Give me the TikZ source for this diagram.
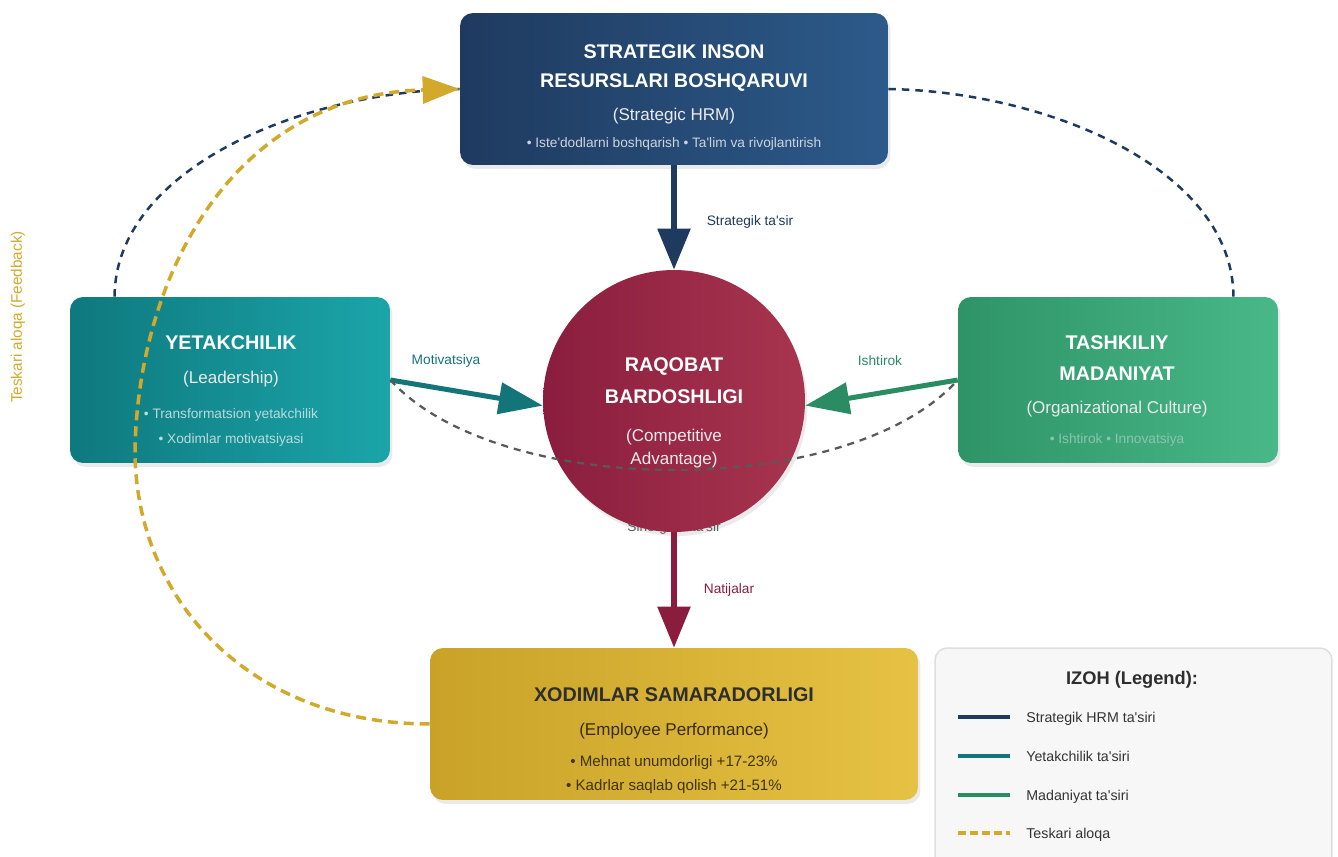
\documentclass[tikz,border=0pt]{standalone}
\usepackage{fontspec}
\setmainfont{Liberation Sans}[Ligatures=TeXOff]
\usepackage{tikz}
\usetikzlibrary{arrows.meta,calc,shadows}
\definecolor{hrmblue}{HTML}{1F3A5F}
\definecolor{hrmlight}{HTML}{2C5A8A}
\definecolor{leadteal}{HTML}{0E797E}
\definecolor{leadlight}{HTML}{1BA5A9}
\definecolor{leadarrow}{HTML}{147579}
\definecolor{cultgreen}{HTML}{2E9468}
\definecolor{cultlight}{HTML}{49B888}
\definecolor{cultarrow}{HTML}{2A8C62}
\definecolor{advred}{HTML}{8A1D3E}
\definecolor{advlight}{HTML}{A8354F}
\definecolor{perfgold}{HTML}{C9A227}
\definecolor{perflight}{HTML}{E6C244}
\definecolor{fbgold}{HTML}{D2A92B}

\begin{document}
\begin{tikzpicture}[x=0.02cm,y=-0.02cm,
  box/.style={rounded corners=0.26cm, inner sep=0pt,
    drop shadow={opacity=0.16, shadow xshift=0.05cm, shadow yshift=-0.08cm}},
  title/.style={font=\bfseries\fontsize{11.25}{14}\selectfont, text=white},
  sub/.style={font=\fontsize{9.7}{12}\selectfont, text=white!92!black},
  note/.style={font=\fontsize{7.8}{9}\selectfont},
  lbl/.style={font=\fontsize{7.8}{9}\selectfont},
  legtext/.style={font=\fontsize{8.1}{10}\selectfont, text=black!80, anchor=base west, inner sep=0pt},
  bigarrow/.style={line width=0.11cm, -{Triangle[length=0.82cm, width=0.64cm]}},
  sidearrow/.style={line width=0.1cm, -{Triangle[length=0.88cm, width=0.62cm]}}]

\clip (0,0) rectangle (1338,857);
\fill[white] (0,0) rectangle (1338,857);

% label that sits under the circle
\node[lbl, text=black!65] (sinlbl) at (674,528) {Sinergetik ta'sir};

% main blocks
\node[box, minimum width=8.56cm, minimum height=3.04cm, left color=hrmblue, right color=hrmlight] (hrm) at (674,89) {};
\node[box, minimum width=6.4cm, minimum height=3.32cm, left color=leadteal, right color=leadlight] (lead) at (230,380) {};
\node[box, minimum width=6.4cm, minimum height=3.32cm, left color=cultgreen, right color=cultlight] (cult) at (1118,380) {};
\node[circle, inner sep=0pt, minimum size=5.24cm, left color=advred, right color=advlight,
  drop shadow={opacity=0.16, shadow xshift=0.05cm, shadow yshift=-0.08cm}] (adv) at (674,401) {};
\node[box, minimum width=9.76cm, minimum height=3.04cm, left color=perfgold, right color=perflight] (perf) at (674,724) {};

% texts
\node[title] (hrm-t1) at (674,52) {STRATEGIK INSON};
\node[title] (hrm-t2) at (674,83) {RESURSLARI BOSHQARUVI};
\node[sub] (hrm-sub) at (674,116) {(Strategic HRM)};
\node[note, text=white!78!hrmblue] (hrm-note) at (674,144) {• Iste'dodlarni boshqarish • Ta'lim va rivojlantirish};

\node[title] (lead-t) at (231,343) {YETAKCHILIK};
\node[sub] (lead-sub) at (231,379) {(Leadership)};
\node[note, text=white!72!leadteal] (lead-n1) at (231,415) {• Transformatsion yetakchilik};
\node[note, text=white!72!leadteal] (lead-n2) at (231,440) {• Xodimlar motivatsiyasi};

\node[title] (cult-t1) at (1117,343) {TASHKILIY};
\node[title] (cult-t2) at (1117,374) {MADANIYAT};
\node[sub] (cult-sub) at (1117,409) {(Organizational Culture)};
\node[note, text=white!45!cultgreen] (cult-note) at (1117,440) {• Ishtirok • Innovatsiya};

\node[title] (adv-t1) at (674,367) {RAQOBAT};
\node[title] (adv-t2) at (674,397) {BARDOSHLIGI};
\node[sub] (adv-s1) at (674,437) {(Competitive};
\node[sub] (adv-s2) at (674,460) {Advantage)};

\node[title, text=black!82] (perf-t) at (674,695) {XODIMLAR SAMARADORLIGI};
\node[sub, text=black!72!perfgold] (perf-sub) at (674,731) {(Employee Performance)};
\node[note, font=\fontsize{8.6}{10}\selectfont, text=black!68!perfgold] (perf-n1) at (674,763) {• Mehnat unumdorligi +17-23\%};
\node[note, font=\fontsize{8.6}{10}\selectfont, text=black!68!perfgold] (perf-n2) at (674,787) {• Kadrlar saqlab qolish +21-51\%};

% main arrows
\draw[bigarrow, hrmblue] (hrm.south) -- (adv.north);
\draw[sidearrow, leadarrow] (lead.east) -- (adv.182);
\draw[sidearrow, cultarrow] (cult.west) -- (adv.358);
\draw[bigarrow, advred] (adv.south) -- (perf.north);

\node[lbl, text=hrmblue] (lbl-str) at (750,222) {Strategik ta'sir};
\node[lbl, text=leadarrow] (lbl-mot) at (446,361) {Motivatsiya};
\node[lbl, text=cultarrow] (lbl-ish) at (880,361) {Ishtirok};
\node[lbl, text=advred] (lbl-nat) at (729,590) {Natijalar};

% dashed links
\draw[black!65, line width=0.045cm, dash pattern=on 0.14cm off 0.12cm]
  (lead.east) .. controls (500,500) and (850,500) .. (cult.west);
\draw[hrmblue, line width=0.05cm, dash pattern=on 0.15cm off 0.12cm]
  ($(lead.north west)!0.14!(lead.north east)$) .. controls (115,170) and (300,92) .. (hrm.west);
\draw[hrmblue, line width=0.05cm, dash pattern=on 0.15cm off 0.12cm]
  (hrm.east) .. controls (1050,92) and (1233,170) .. ($(cult.north west)!0.86!(cult.north east)$);

% feedback loop
\coordinate (fbk) at (135,450);
\draw[fbgold, line width=0.07cm, dash pattern=on 0.2cm off 0.12cm, -{Triangle[length=0.74cm, width=0.54cm]}]
  (perf.west) .. controls (250,724) and (135,600) .. (fbk)
  .. controls (138,280) and (230,95) .. (hrm.west);
\node[lbl, font=\fontsize{8.7}{10}\selectfont, text=fbgold, rotate=90] (fbk-lbl) at (18,317) {Teskari aloqa (Feedback)};

% legend
\node[rounded corners=0.24cm, minimum width=7.94cm, minimum height=4.48cm, fill=black!3, draw=black!13, line width=0.03cm] (legend) at (1133.5,760) {};
\node[font=\bfseries\fontsize{10.4}{12}\selectfont, text=black!82] (leg-title) at (1132,680) {IZOH (Legend):};
\draw[hrmblue, line width=0.08cm] (958,717) -- (1010,717);
\node[legtext] (leg-hrm) at (1026,722) {Strategik HRM ta'siri};
\draw[leadarrow, line width=0.08cm] (958,756) -- (1010,756);
\node[legtext] (leg-lead) at (1026,761) {Yetakchilik ta'siri};
\draw[cultarrow, line width=0.08cm] (958,795) -- (1010,795);
\node[legtext] (leg-cult) at (1026,800) {Madaniyat ta'siri};
\draw[fbgold, line width=0.08cm, dash pattern=on 0.16cm off 0.08cm] (958,833) -- (1010,833);
\node[legtext] (leg-fbk) at (1026,838) {Teskari aloqa};

\end{tikzpicture}
\end{document}
